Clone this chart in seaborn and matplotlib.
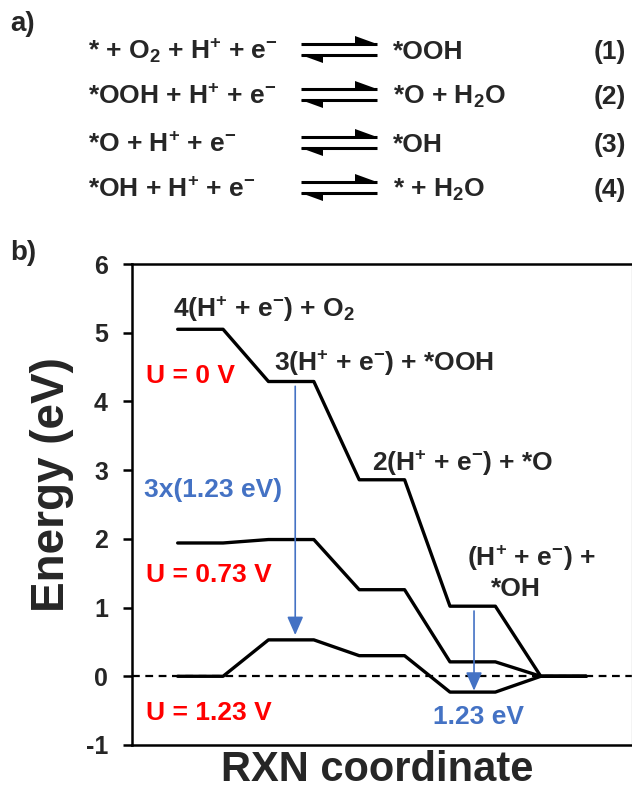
import numpy as np
import pandas as pd
import matplotlib
matplotlib.use("Agg")
import matplotlib.pyplot as plt
import seaborn as sns
from matplotlib.lines import Line2D
from matplotlib.patches import Polygon

# Free-energy levels (eV) of the five ORR states at three electrode potentials
potentials = ["U = 0 V", "U = 0.73 V", "U = 1.23 V"]
energy_u0 = [5.05, 4.29, 2.86, 1.02, 0.00]
energy_u073 = [1.94, 1.99, 1.26, 0.21, 0.00]
energy_u123 = [0.00, 0.53, 0.30, -0.23, 0.00]
y_ticks = [-1, 0, 1, 2, 3, 4, 5, 6]
step_potential = 1.23

state_labels = [
    r"4(H$^{+}$ + e$^{-}$) + O$_{2}$",
    r"3(H$^{+}$ + e$^{-}$) + *OOH",
    r"2(H$^{+}$ + e$^{-}$) + *O",
]

reactions_left = [
    r"* + O$_{2}$ + H$^{+}$ + e$^{-}$",
    r"*OOH + H$^{+}$ + e$^{-}$",
    r"*O + H$^{+}$ + e$^{-}$",
    r"*OH + H$^{+}$ + e$^{-}$",
]
reactions_right = [r"*OOH", r"*O + H$_{2}$O", r"*OH", r"* + H$_{2}$O"]
reaction_numbers = ["(1)", "(2)", "(3)", "(4)"]

# Each state is drawn as a flat level one unit wide, with one-unit connectors
rows = []
for name, levels in zip(potentials, [energy_u0, energy_u073, energy_u123]):
    for i, e in enumerate(levels):
        rows.append({"potential": name, "x": 2 * i, "energy": e})
        rows.append({"potential": name, "x": 2 * i + 1, "energy": e})
df = pd.DataFrame(rows)

sns.set_style("ticks")
plt.rcParams["font.family"] = ["Liberation Sans", "DejaVu Sans"]
plt.rcParams["font.weight"] = "bold"
plt.rcParams["mathtext.fontset"] = "custom"
for key in ["rm", "it", "bf", "sf"]:
    plt.rcParams["mathtext." + key] = "Liberation Sans:bold"
plt.rcParams["axes.unicode_minus"] = False

W, H = 632, 790
fig = plt.figure(figsize=(W / 100, H / 100), dpi=100)


def fx(px):
    return px / W


def fy(py):
    return 1 - py / H


ax = fig.add_axes([fx(132.3), fy(745), (631.5 - 132.3) / W, (745 - 264) / H])

ax.axhline(0, color="black", lw=1.6, ls=(0, (3.5, 2.5)), zorder=1)
sns.lineplot(data=df, x="x", y="energy", units="potential", estimator=None,
             sort=False, color="black", lw=2.4, ax=ax, zorder=3)

ax.set_xlim(-1, 10)
ax.set_ylim(-1, 6)
ax.set_yticks(y_ticks)
ax.set_yticklabels([str(t) for t in y_ticks])
ax.set_xticks([])
ax.tick_params(axis="y", direction="out", length=6.5, width=1.8,
               labelsize=18, pad=11, color="black")
for lab in ax.get_yticklabels():
    lab.set_fontweight("bold")
for side in ["left", "bottom", "top"]:
    ax.spines[side].set_color("black")
    ax.spines[side].set_linewidth(1.8)
ax.spines["right"].set_color("#c8c8c8")
ax.spines["right"].set_linewidth(1.0)

ax.set_xlabel("RXN coordinate", fontsize=30, fontweight="bold")
ax.set_ylabel("Energy (eV)", fontsize=33, fontweight="bold")
ax.xaxis.set_label_coords(0.491, -0.010)
ax.yaxis.set_label_coords(-0.117, 0.541)

fs = 19
# State labels for the U = 0 V pathway
ax.text(-0.11, 5.23, state_labels[0], fontsize=fs, fontweight="bold", ha="left", va="baseline")
ax.text(2.13, 4.45, state_labels[1], fontsize=fs, fontweight="bold", ha="left", va="baseline")
ax.text(4.29, 2.99, state_labels[2], fontsize=fs, fontweight="bold", ha="left", va="baseline")
ax.text(6.37, 1.61, r"(H$^{+}$ + e$^{-}$) +", fontsize=fs, fontweight="bold", ha="left", va="baseline")
ax.text(7.45, 1.17, "*OH", fontsize=fs, fontweight="bold", ha="center", va="baseline")

# Potential labels
red = "#ff0000"
ax.text(-0.69, 4.27, potentials[0], color=red, fontsize=fs, fontweight="bold", va="baseline")
ax.text(-0.69, 1.37, potentials[1], color=red, fontsize=fs, fontweight="bold", va="baseline")
ax.text(-0.69, -0.64, potentials[2], color=red, fontsize=fs, fontweight="bold", va="baseline")

# Energy drops supplied by the electrode potential
blue = "#4472c4"
arrow_style = "-|>,head_length=0.8,head_width=0.35"
x1 = 2.59
ax.annotate("", xy=(x1, energy_u0[1] - 3 * step_potential), xytext=(x1, energy_u0[1] - 0.07),
            arrowprops=dict(arrowstyle=arrow_style, color=blue, lw=1.2,
                            mutation_scale=14, shrinkA=0, shrinkB=0), zorder=4)
x2 = 6.53
ax.annotate("", xy=(x2, energy_u0[3] - step_potential), xytext=(x2, energy_u0[3] - 0.07),
            arrowprops=dict(arrowstyle=arrow_style, color=blue, lw=1.2,
                            mutation_scale=14, shrinkA=0, shrinkB=0), zorder=4)
ax.text(-0.75, 2.61, "3x(1.23 eV)", color=blue, fontsize=fs, fontweight="bold", va="baseline")
ax.text(5.63, -0.70, "1.23 eV", color=blue, fontsize=fs, fontweight="bold", va="baseline")

# Panel letters
fig.text(fx(10), fy(31), "a)", fontsize=20, fontweight="bold", ha="left", va="baseline")
fig.text(fx(10), fy(260), "b)", fontsize=20, fontweight="bold", ha="left", va="baseline")

# Reaction scheme with equilibrium harpoons
line_centers = [50, 95, 143, 188]
for yc, left, right, num in zip(line_centers, reactions_left, reactions_right, reaction_numbers):
    base = yc + 9
    fig.text(fx(88), fy(base), left, fontsize=fs, fontweight="bold", ha="left", va="baseline")
    fig.text(fx(393), fy(base), right, fontsize=fs, fontweight="bold", ha="left", va="baseline")
    fig.text(fx(626), fy(base), num, fontsize=fs, fontweight="bold", ha="right", va="baseline")
    hx0, hx1 = 301, 377
    yt, yb = yc - 6, yc + 5
    fig.add_artist(Line2D([fx(hx0), fx(hx1)], [fy(yt), fy(yt)], color="black", lw=2.2,
                          solid_capstyle="butt"))
    fig.add_artist(Polygon([(fx(hx1), fy(yt)), (fx(hx1 - 22), fy(yt)), (fx(hx1 - 22), fy(yt - 8))],
                           closed=True, color="black", lw=0))
    fig.add_artist(Line2D([fx(hx0), fx(hx1)], [fy(yb), fy(yb)], color="black", lw=2.2,
                          solid_capstyle="butt"))
    fig.add_artist(Polygon([(fx(hx0), fy(yb)), (fx(hx0 + 22), fy(yb)), (fx(hx0 + 22), fy(yb + 8))],
                           closed=True, color="black", lw=0))

fig.savefig("out.png", dpi=100)
